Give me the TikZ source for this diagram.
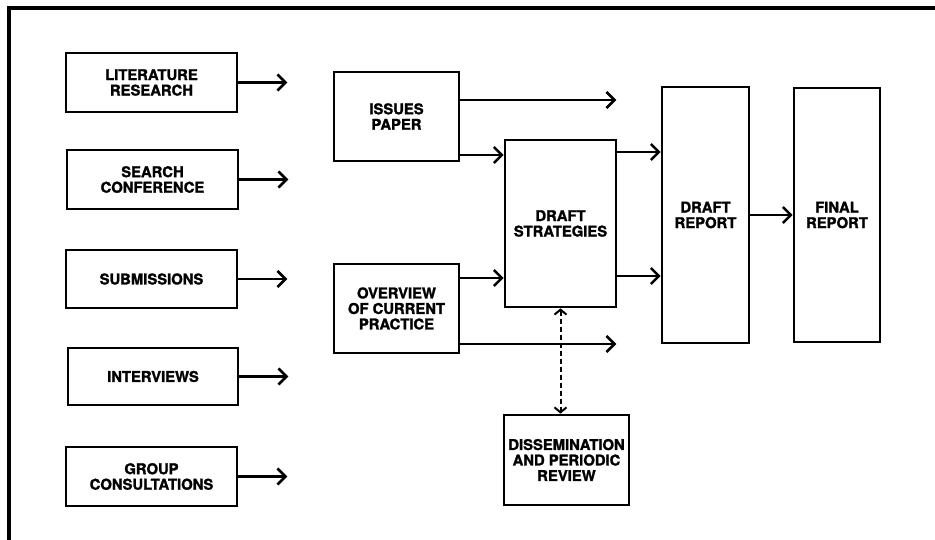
\documentclass[tikz,border=0pt]{standalone}
\usepackage{fontspec}
\setmainfont{TeX Gyre Heros}[BoldFeatures={FakeBold=1.6}]
\usetikzlibrary{arrows.meta}
\begin{document}
\begin{tikzpicture}[x=1pt,y=-1pt,
  box/.style={draw, line width=2.6pt, align=center, inner sep=0pt,
    font=\fontsize{14.8}{15.5}\selectfont\bfseries},
  arr/.style={line width=2.6pt, -{Straight Barb[length=8pt,width=16pt,line width=2.6pt]}},
  dual/.style={line width=2pt, dash pattern=on 5pt off 3pt,
    {Straight Barb[length=5pt,width=12pt,line width=2pt]}-{Straight Barb[length=5pt,width=12pt,line width=2pt]}}
]
\useasboundingbox (0,0) rectangle (935,540);
% outer frame: only its top and left edges fall inside the page
\draw[line width=3.5pt] (9,545) -- (9,8) -- (940,8);

% sources of input
\node[box, minimum width=171pt, minimum height=59pt] (lit) at (151.5,82.5) {LITERATURE\\RESEARCH};
\node[box, minimum width=171pt, minimum height=59pt] (srch) at (152.5,179.5) {SEARCH\\CONFERENCE};
\node[box, minimum width=171pt, minimum height=58pt] (sub) at (151.5,279) {SUBMISSIONS};
\node[box, minimum width=170pt, minimum height=57pt] (int) at (153,376.5) {INTERVIEWS};
\node[box, minimum width=171pt, minimum height=59pt] (grp) at (151.5,476.5) {GROUP\\CONSULTATIONS};

% middle column
\node[box, minimum width=125pt, minimum height=89pt] (iss) at (396.5,116.5) {ISSUES\\PAPER};
\node[box, minimum width=125pt, minimum height=89pt] (ovr) at (396.5,308.5) {OVERVIEW\\OF CURRENT\\PRACTICE};
\node[box, minimum width=111pt, minimum height=167pt] (ds) at (560.5,223.5) {DRAFT\\STRATEGIES};
\node[box, minimum width=125pt, minimum height=90pt] (dis) at (566.5,460) {DISSEMINATION\\AND PERIODIC\\REVIEW};

% reports
\node[box, minimum width=87pt, minimum height=256pt] (dr) at (705.5,215) {DRAFT\\REPORT};
\node[box, minimum width=86pt, minimum height=254pt] (fr) at (837,215) {FINAL\\REPORT};

% input arrows
\foreach \n in {lit,srch,sub,int,grp}
  \draw[arr] (\n.east) -- ++(49,0);

% issues paper
\coordinate (i1) at ([yshift=16.5pt]iss.east);
\coordinate (i2) at ([yshift=-38.5pt]iss.east);
\draw[arr] (i1) -- ++(156,0);
\draw[arr] (i2) -- (ds.west |- i2);

% overview of current practice
\coordinate (o1) at ([yshift=30.5pt]ovr.east);
\coordinate (o2) at ([yshift=-35.5pt]ovr.east);
\draw[arr] (o1) -- (ds.west |- o1);
\draw[arr] (o2) -- ++(156,0);

% draft strategies to draft report
\coordinate (d1) at ([yshift=71.5pt]ds.east);
\coordinate (d2) at ([yshift=-52.5pt]ds.east);
\draw[arr] (d1) -- (dr.west |- d1);
\draw[arr] (d2) -- (dr.west |- d2);

% draft report to final report
\draw[arr] (dr.east) -- (fr.west);

% review loop
\draw[dual] (ds.south) -- (ds.south |- dis.north);
\end{tikzpicture}
\end{document}
